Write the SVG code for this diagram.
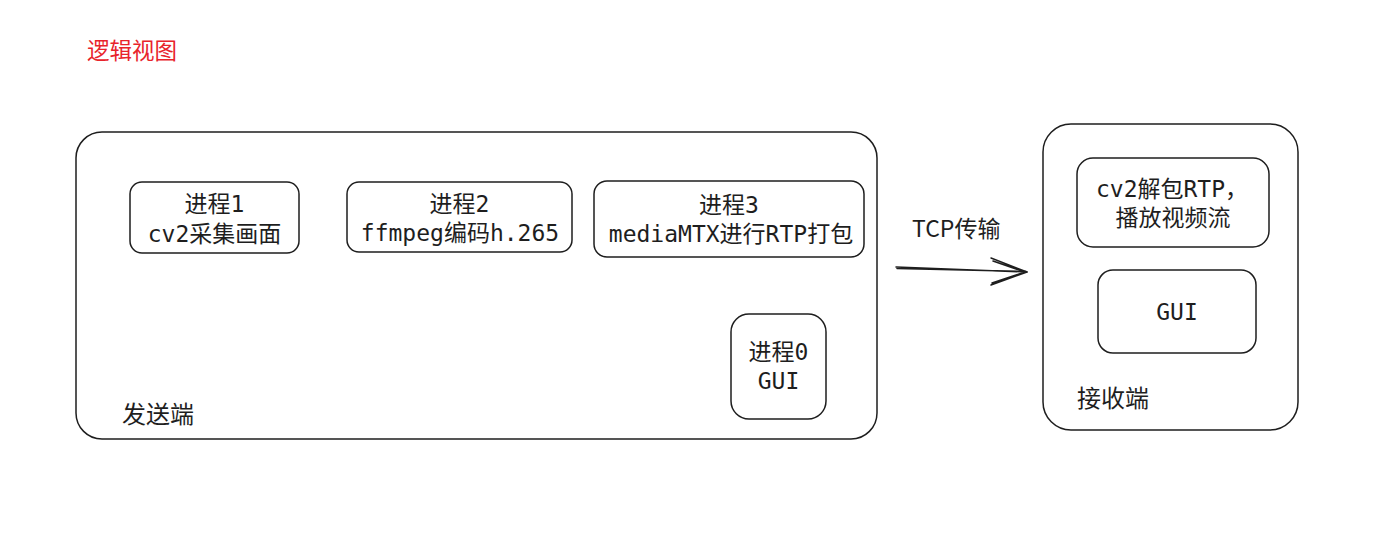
<svg xmlns="http://www.w3.org/2000/svg" width="1379" height="551" viewBox="0 0 1379 551">
<style>
.box{fill:none;stroke:#1e1e1e;stroke-width:1.5}
.m{font-family:"DejaVu Sans Mono","Noto Sans CJK SC",monospace;font-size:23px;fill:#1e1e1e;text-anchor:middle;dominant-baseline:central}
.s{font-family:"Noto Sans CJK SC","Noto Sans",sans-serif;font-size:24px;fill:#1e1e1e;dominant-baseline:central}
.c{fill:none;stroke:#1e1e1e;stroke-width:1.5;stroke-linecap:round;stroke-linejoin:round}
</style>
<rect width="1379" height="551" fill="#ffffff"/>
<text id="title" class="s" x="87" y="49" style="fill:#e8232b;font-size:22.5px">逻辑视图</text>
<g id="sender">
<rect class="box" x="76" y="132" width="801" height="307" rx="26"/>
<text class="s" x="122" y="412">发送端</text>
</g>
<g id="p1">
<rect class="box" x="130" y="182" width="169" height="71" rx="12"/>
<text class="m" x="214.5" y="204">进程1</text>
<text class="m" x="214.5" y="234">cv2采集画面</text>
</g>
<g id="p2">
<rect class="box" x="347" y="182" width="225" height="70" rx="12"/>
<text class="m" x="459.5" y="204">进程2</text>
<text class="m" x="460" y="233">ffmpeg编码h.265</text>
</g>
<g id="p3">
<rect class="box" x="594" y="181" width="270" height="76" rx="13"/>
<text class="m" x="729" y="205">进程3</text>
<text class="m" x="731" y="234">mediaMTX进行RTP打包</text>
</g>
<g id="p0">
<rect class="box" x="731" y="314" width="95" height="105" rx="18"/>
<text class="m" x="778.5" y="352">进程0</text>
<text class="m" x="778.5" y="381">GUI</text>
</g>
<g id="receiver">
<rect class="box" x="1043" y="124" width="255" height="306" rx="28"/>
<text class="s" x="1077" y="396">接收端</text>
</g>
<g id="r1">
<rect class="box" x="1077" y="158" width="192" height="89" rx="16"/>
<text class="m" x="1172" y="189">cv2解包RTP，</text>
<text class="m" x="1173" y="218">播放视频流</text>
</g>
<g id="r2">
<rect class="box" x="1098" y="270" width="158" height="83" rx="15"/>
<text class="m" x="1177" y="312">GUI</text>
</g>
<g id="connectors">
<path class="c" d="M896 267 L1027 272 M897 268.5 L1026 271.5"/>
<path class="c" d="M991 258 L1027 272 L991 285 M993 261 L1025 272 L992 283"/>
<text class="s" x="912" y="227" style="font-size:23px">TCP传输</text>
</g>
</svg>
